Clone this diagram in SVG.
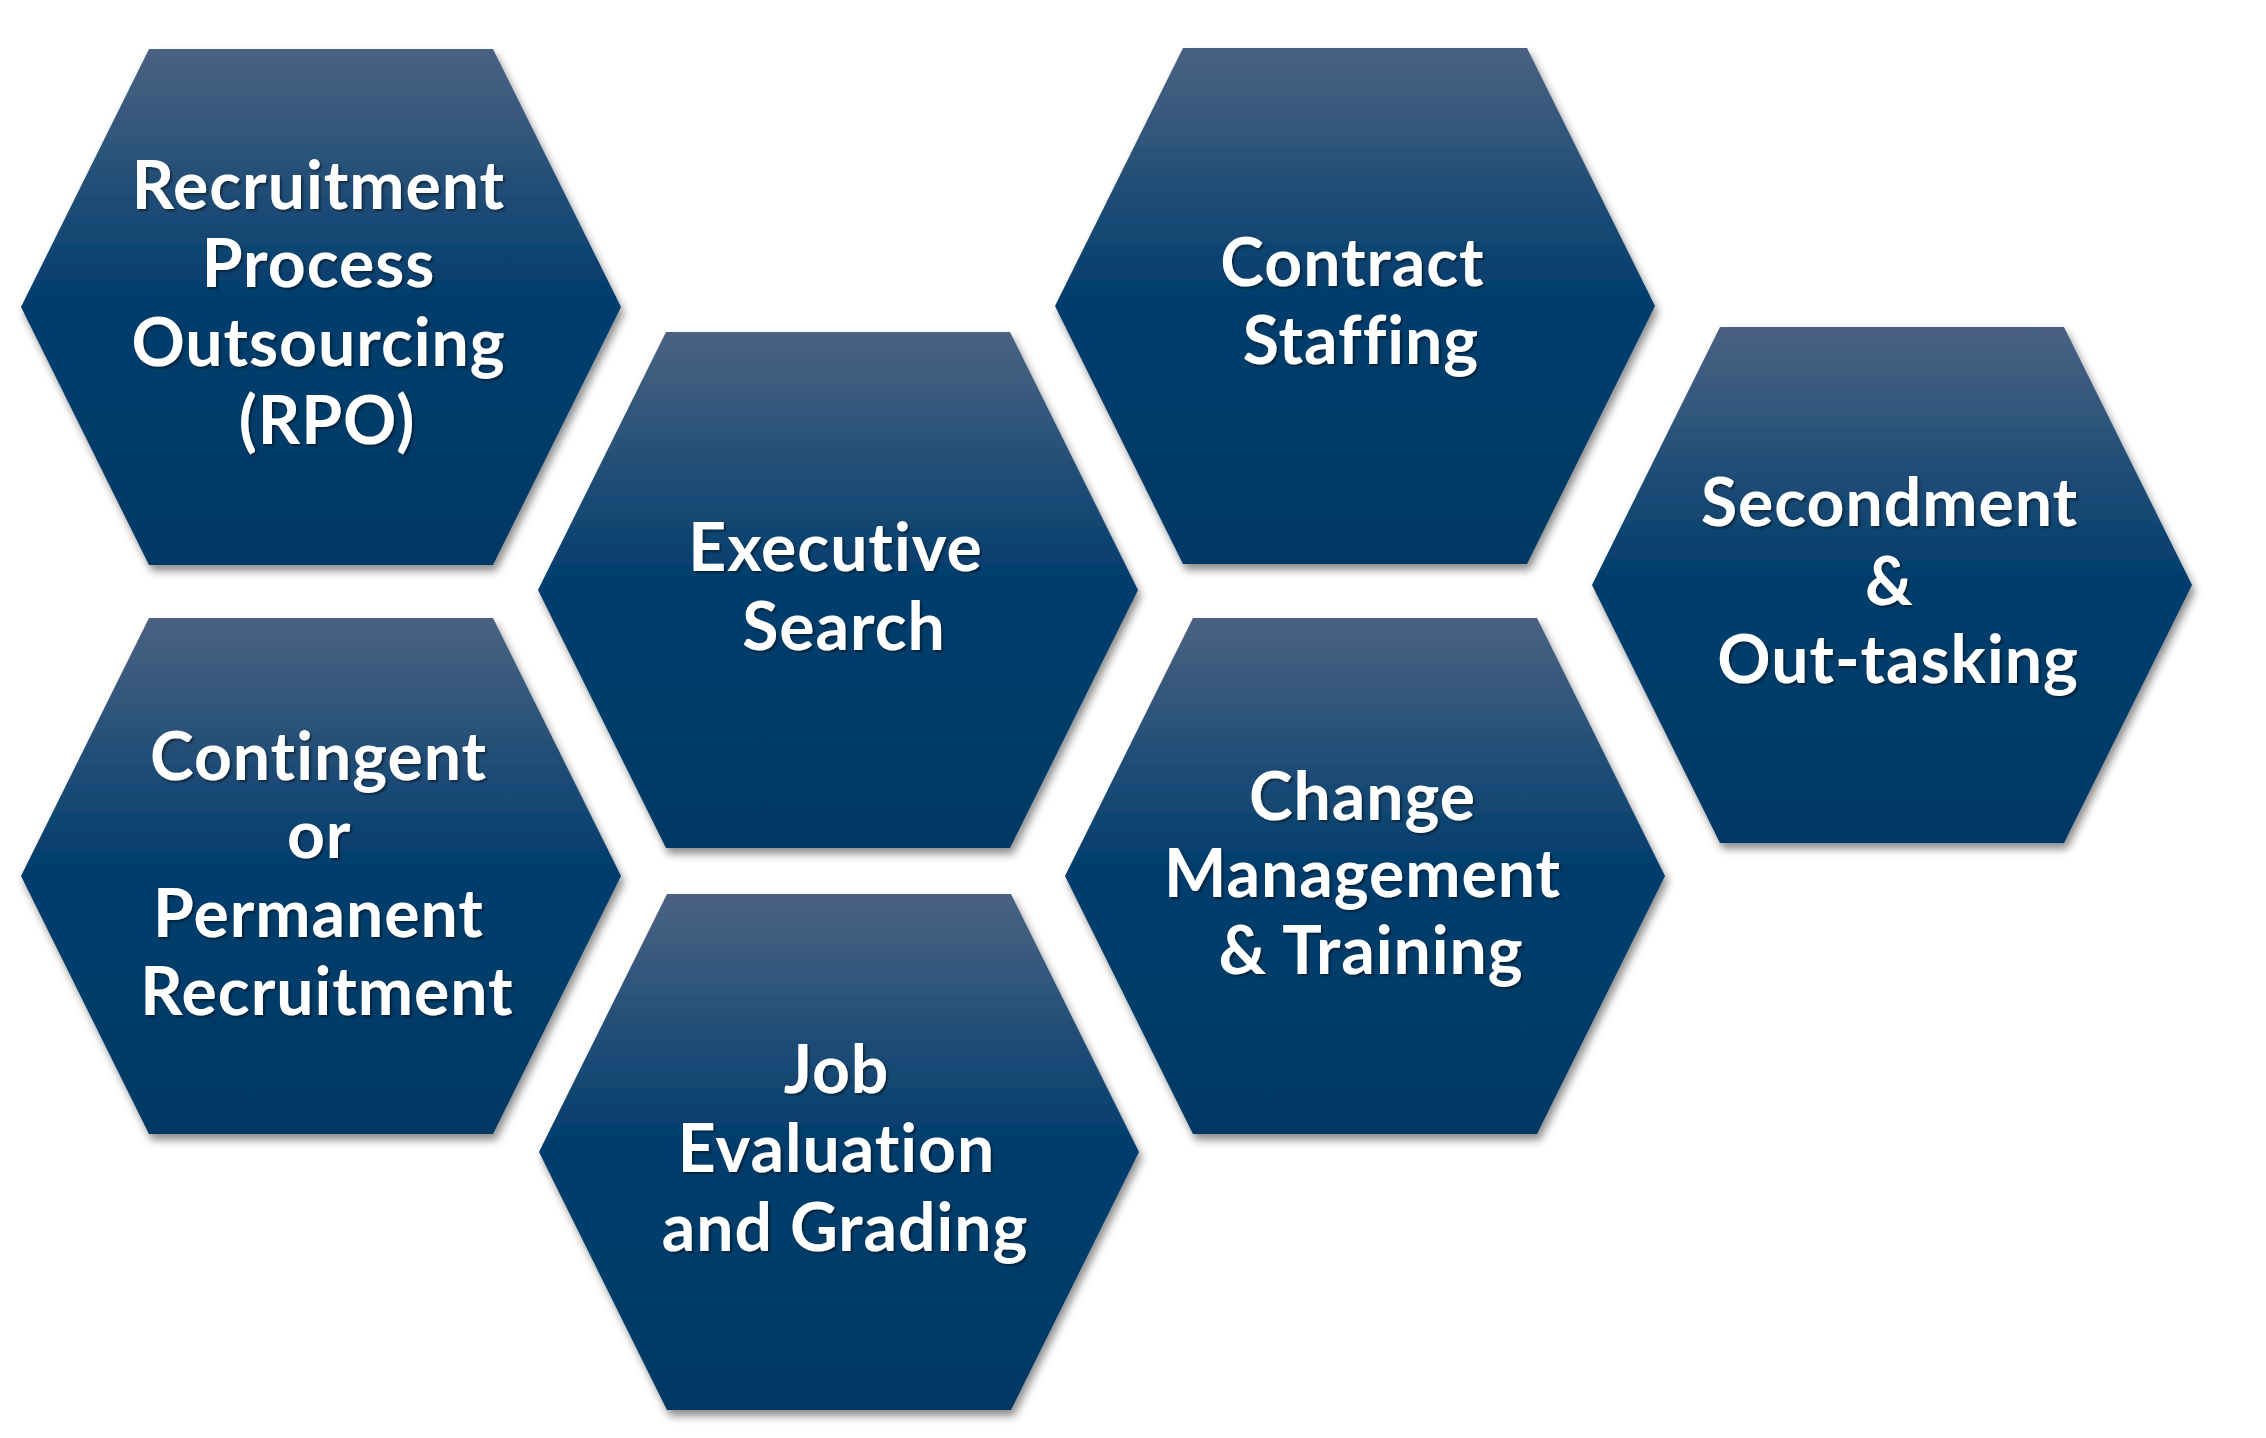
<svg xmlns="http://www.w3.org/2000/svg" xmlns:xlink="http://www.w3.org/1999/xlink" width="2266" height="1438" viewBox="0 0 2266 1438">
  <defs>
    <linearGradient id="hexFill" x1="0" y1="0" x2="0" y2="1">
      <stop offset="0" stop-color="#4A6282"/>
      <stop offset="0.48" stop-color="#023E6D"/>
      <stop offset="1" stop-color="#003965"/>
    </linearGradient>
    <filter id="shadow" x="-10%" y="-10%" width="125%" height="125%">
      <feDropShadow dx="3" dy="6" stdDeviation="4" flood-color="#000" flood-opacity="0.45"/>
    </filter>
    <filter id="tshadow" x="-10%" y="-20%" width="120%" height="150%">
      <feDropShadow dx="2" dy="2" stdDeviation="1.2" flood-color="#000" flood-opacity="0.45"/>
    </filter>
    <polygon id="hex" points="0,258 128,0 472,0 600,258 472,516 128,516"/>
  </defs>
  <style>
    .hex { fill: url(#hexFill); filter: url(#shadow); }
    .lbl { fill: #FFFFFF; font-family: Lato, "Open Sans", "Liberation Sans", sans-serif; font-weight: bold; font-size: 66px; letter-spacing: 1px; font-variant-ligatures: none; font-feature-settings: "liga" 0, "clig" 0; text-anchor: middle; filter: url(#tshadow); }
  </style>
  <rect width="2266" height="1438" fill="#FFFFFF"/>

  <g id="node-rpo">
    <use xlink:href="#hex" href="#hex" class="hex" x="21" y="49"/>
    <text class="lbl">
      <tspan x="327" y="209">Recruitment</tspan>
      <tspan x="327" y="287">Process</tspan>
      <tspan x="327" y="366">Outsourcing</tspan>
      <tspan x="327" y="444">(RPO)</tspan>
    </text>
  </g>

  <g id="node-contingent">
    <use xlink:href="#hex" href="#hex" class="hex" x="21" y="618"/>
    <text class="lbl">
      <tspan x="327" y="780">Contingent</tspan>
      <tspan x="327" y="858">or</tspan>
      <tspan x="327" y="937">Permanent</tspan>
      <tspan x="327" y="1015">Recruitment</tspan>
    </text>
  </g>

  <g id="node-executive">
    <use xlink:href="#hex" href="#hex" class="hex" x="538" y="332"/>
    <text class="lbl">
      <tspan x="844" y="571">Executive</tspan>
      <tspan x="844" y="650">Search</tspan>
    </text>
  </g>

  <g id="node-job">
    <use xlink:href="#hex" href="#hex" class="hex" x="539" y="894"/>
    <text class="lbl">
      <tspan x="845" y="1093">Job</tspan>
      <tspan x="845" y="1172">Evaluation</tspan>
      <tspan x="845" y="1251">and Grading</tspan>
    </text>
  </g>

  <g id="node-contract">
    <use xlink:href="#hex" href="#hex" class="hex" x="1055" y="48"/>
    <text class="lbl">
      <tspan x="1361" y="286">Contract</tspan>
      <tspan x="1361" y="364">Staffing</tspan>
    </text>
  </g>

  <g id="node-change">
    <use xlink:href="#hex" href="#hex" class="hex" x="1065" y="618"/>
    <text class="lbl">
      <tspan x="1371" y="820">Change</tspan>
      <tspan x="1371" y="897">Management</tspan>
      <tspan x="1371" y="974">&amp; Training</tspan>
    </text>
  </g>

  <g id="node-secondment">
    <use xlink:href="#hex" href="#hex" class="hex" x="1592" y="327"/>
    <text class="lbl">
      <tspan x="1898" y="526">Secondment</tspan>
      <tspan x="1898" y="605">&amp;</tspan>
      <tspan x="1898" y="683">Out-tasking</tspan>
    </text>
  </g>

  <g id="connectors"/>
</svg>
